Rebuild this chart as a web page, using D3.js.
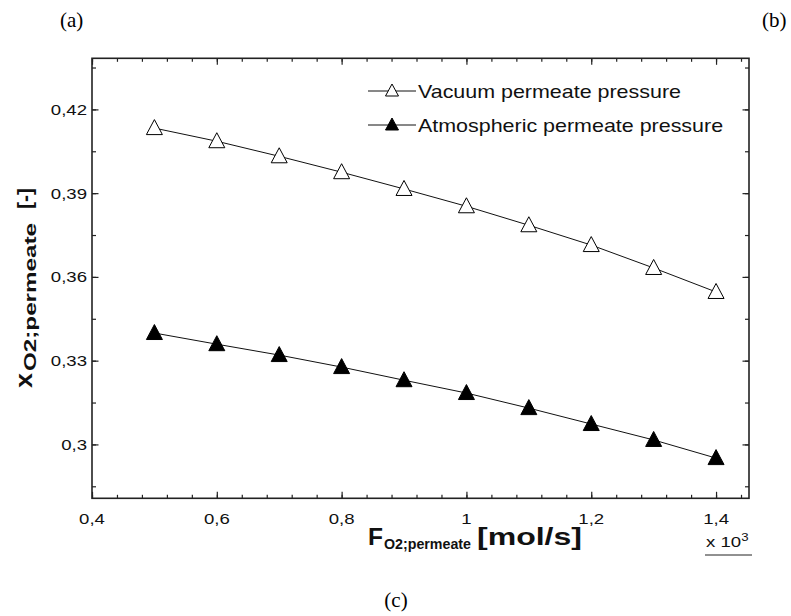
<!DOCTYPE html>
<html>
<head>
<meta charset="utf-8">
<script src="https://cdn.jsdelivr.net/npm/d3@7"></script>
<style>
  body { margin: 0; background: #fff; }
  svg { display: block; font-family: "Liberation Sans", Arial, sans-serif; }
  .serif { font-family: "Liberation Serif", "Times New Roman", serif; }
</style>
</head>
<body>
<svg width="791" height="616"></svg>
<script>
// data
var flow = [0.5, 0.6, 0.7, 0.8, 0.9, 1.0, 1.1, 1.2, 1.3, 1.4];
var vacuum = [0.4133, 0.4086, 0.4032, 0.3975, 0.3915, 0.3853, 0.3785, 0.3714, 0.3632, 0.3546];
var atmospheric = [0.3399, 0.3359, 0.3320, 0.3277, 0.3230, 0.3184, 0.3130, 0.3073, 0.3016, 0.2951];
var seriesNames = ["Vacuum permeate pressure", "Atmospheric permeate pressure"];
var xTicks = [0.4, 0.6, 0.8, 1.0, 1.2, 1.4];
var yTicks = [0.30, 0.33, 0.36, 0.39, 0.42];

var svg = d3.select("svg");
var box = { left: 92, right: 749, top: 58.3, bottom: 498.3 };
var stretch = 1.2; // the source font runs wider than Arial

var x = d3.scaleLinear().domain([0.4, 1.4528]).range([box.left, box.right]);
var y = d3.scaleLinear().domain([0.2807, 0.4383]).range([box.bottom, box.top]);

var fmt = function(d) { return String(+d.toFixed(2)).replace(".", ","); };

var xMinor = d3.range(0, 27).map(function(i) { return +(0.4 + i * 0.04).toFixed(2); });
var yMinor = d3.range(0, 11).map(function(i) { return +(0.285 + i * 0.015).toFixed(3); });

function drawAxis(axis, tr, size, vals) {
  var g = svg.append("g").attr("transform", tr)
    .call(axis.tickValues(vals).tickSize(size).tickFormat(""));
  g.select(".domain").remove();
  g.selectAll("line").attr("stroke", "#222").attr("stroke-width", 1.2);
}
// minor + major ticks on all four sides, pointing inward
drawAxis(d3.axisBottom(x), "translate(0," + box.bottom + ")", -3.5, xMinor);
drawAxis(d3.axisBottom(x), "translate(0," + box.bottom + ")", -6.5, xTicks);
drawAxis(d3.axisTop(x), "translate(0," + box.top + ")", -3.5, xMinor);
drawAxis(d3.axisTop(x), "translate(0," + box.top + ")", -6.5, xTicks);
drawAxis(d3.axisLeft(y), "translate(" + box.left + ",0)", -4, yMinor);
drawAxis(d3.axisLeft(y), "translate(" + box.left + ",0)", -6.5, yTicks);
drawAxis(d3.axisRight(y), "translate(" + box.right + ",0)", -4, yMinor);
drawAxis(d3.axisRight(y), "translate(" + box.right + ",0)", -6.5, yTicks);

svg.append("rect")
  .attr("x", box.left).attr("y", box.top)
  .attr("width", box.right - box.left).attr("height", box.bottom - box.top)
  .attr("fill", "none").attr("stroke", "#222").attr("stroke-width", 1.6);

// tick labels
svg.append("g").selectAll("text").data(xTicks).enter().append("text")
  .attr("transform", function(d) { return "translate(" + x(d) + ",524) scale(" + stretch + ",1)"; })
  .attr("text-anchor", "middle").attr("font-size", 15.5).attr("fill", "#111")
  .text(fmt);
svg.append("g").selectAll("text").data(yTicks).enter().append("text")
  .attr("transform", function(d) { return "translate(87," + (y(d) + 5.5) + ") scale(" + stretch + ",1)"; })
  .attr("text-anchor", "end").attr("font-size", 15.5).attr("fill", "#111")
  .text(fmt);

// x 10^3 multiplier
var mult = svg.append("text")
  .attr("transform", "translate(706,547) scale(" + stretch + ",1)")
  .attr("font-size", 15.5).attr("fill", "#111");
mult.append("tspan").text("x 10");
mult.append("tspan").attr("dy", -6).attr("font-size", 11).text("3");
svg.append("line").attr("x1", 705).attr("x2", 752).attr("y1", 555).attr("y2", 555)
  .attr("stroke", "#222").attr("stroke-width", 1);

// axis titles, pieces placed one by one
function piece(g, txt, x0, base, size, len) {
  g.append("text")
    .attr("x", x0).attr("y", base)
    .attr("font-weight", "bold").attr("font-size", size).attr("fill", "#111")
    .attr("textLength", len).attr("lengthAdjust", "spacingAndGlyphs")
    .text(txt);
}
var xt = svg.append("g");
piece(xt, "F", 368, 545, 23, 15);
piece(xt, "O2;permeate", 384, 549, 14, 87);
piece(xt, "[mol/s]", 477, 545, 23, 105);

// rotated: text runs bottom to top, start at y = 388
var yt = svg.append("g").attr("transform", "translate(0,388) rotate(-90)");
piece(yt, "x", 0, 32, 24, 15);
piece(yt, "O2;permeate", 17, 36, 16, 148);
piece(yt, "[-]", 179, 32, 20, 21);

// triangle marker, apex up
var tri = "M0,-8.5L8,6.5L-8,6.5Z";

var line = d3.line()
  .x(function(d) { return x(d[0]); })
  .y(function(d) { return y(d[1]); });

[vacuum, atmospheric].forEach(function(vals, i) {
  var pts = flow.map(function(f, j) { return [f, vals[j]]; });
  svg.append("path").datum(pts).attr("d", line)
    .attr("fill", "none").attr("stroke", "#111").attr("stroke-width", 1);
  svg.append("g").selectAll("path").data(pts).enter().append("path")
    .attr("d", tri)
    .attr("transform", function(d) { return "translate(" + x(d[0]) + "," + y(d[1]) + ")"; })
    .attr("fill", i === 0 ? "#fff" : "#000")
    .attr("stroke", "#000").attr("stroke-width", 1);
});

// legend
var legend = svg.append("g").selectAll("g").data(seriesNames).enter().append("g")
  .attr("transform", function(d, i) { return "translate(368," + (91 + i * 34) + ")"; });
legend.append("line").attr("x1", 0).attr("x2", 48).attr("stroke", "#111").attr("stroke-width", 1);
legend.append("path").attr("d", "M0,-7L6.5,5L-6.5,5Z")
  .attr("transform", "translate(24,0)")
  .attr("fill", function(d, i) { return i === 0 ? "#fff" : "#000"; })
  .attr("stroke", "#000").attr("stroke-width", 1);
legend.append("text")
  .attr("transform", "translate(50,7) scale(1.16,1)")
  .attr("font-size", 18.5).attr("fill", "#111")
  .text(function(d) { return d; });

// panel letters
svg.append("text").attr("class", "serif").attr("x", 60).attr("y", 27).attr("font-size", 21).text("(a)");
svg.append("text").attr("class", "serif").attr("x", 762).attr("y", 27).attr("font-size", 21).text("(b)");
svg.append("text").attr("class", "serif").attr("x", 396).attr("y", 607).attr("text-anchor", "middle").attr("font-size", 21).text("(c)");
</script>
</body>
</html>
